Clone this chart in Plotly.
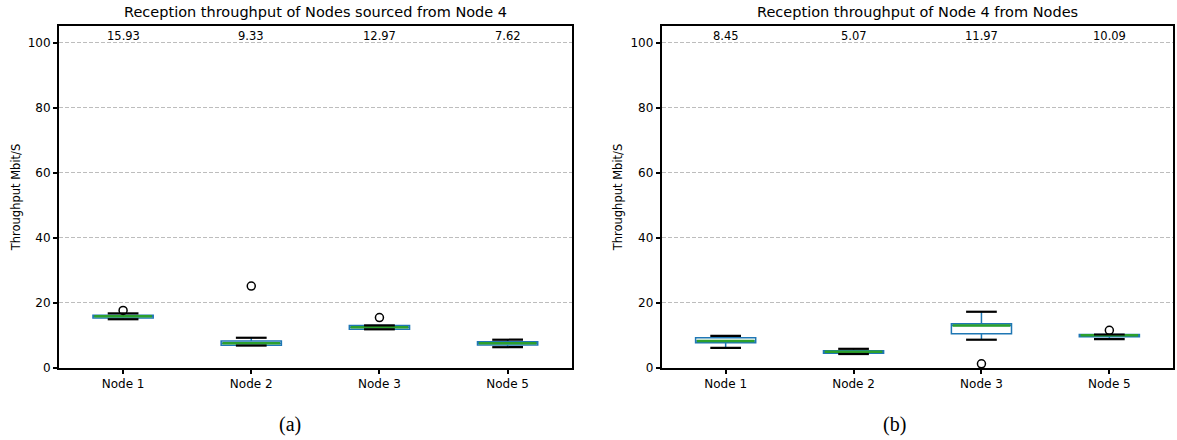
import plotly.graph_objects as go

# ---------------- data ----------------
nodes = ["Node 1", "Node 2", "Node 3", "Node 5"]
positions = [1, 2, 3, 4]

# Panel (a): Reception throughput of Nodes sourced from Node 4
a_q1 = [15.4, 7.0, 11.9, 7.1]
a_median = [15.9, 7.6, 12.5, 7.65]
a_q3 = [16.2, 8.3, 13.1, 8.05]
a_low = [15.0, 6.9, 11.9, 6.4]
a_high = [16.8, 9.3, 13.1, 8.7]
a_outliers_x = [1, 2, 3]
a_outliers_y = [17.7, 25.2, 15.5]
a_means = ["15.93", "9.33", "12.97", "7.62"]

# Panel (b): Reception throughput of Node 4 from Nodes
b_q1 = [7.8, 4.5, 10.5, 9.6]
b_median = [8.3, 5.0, 13.1, 10.1]
b_q3 = [9.3, 5.3, 13.6, 10.3]
b_low = [6.2, 4.3, 8.7, 8.9]
b_high = [9.9, 5.9, 17.3, 10.3]
b_outliers_x = [3, 4]
b_outliers_y = [1.3, 11.6]
b_means = ["8.45", "5.07", "11.97", "10.09"]

titles = ["Reception throughput of Nodes sourced from Node 4",
          "Reception throughput of Node 4 from Nodes"]
panel_labels = ["(a)", "(b)"]
y_ticks = [0, 20, 40, 60, 80, 100]

BOX_W = 0.47
CAP_W = 0.24
BLUE = "#1f77b4"
GREEN = "#2ca02c"

W, H = 1177, 440


def px_x(v):
    return v / W


def px_y(v):
    return 1 - v / H


fig = go.Figure()

panels = [
    (a_q1, a_median, a_q3, a_low, a_high, a_outliers_x, a_outliers_y, a_means, "x", "y"),
    (b_q1, b_median, b_q3, b_low, b_high, b_outliers_x, b_outliers_y, b_means, "x2", "y2"),
]

for (q1, med, q3, lo, hi, ox, oy, means, xa, ya) in panels:
    # boxes with whiskers (blue)
    fig.add_trace(go.Box(
        x=positions, q1=q1, median=med, q3=q3, lowerfence=lo, upperfence=hi,
        width=BOX_W, whiskerwidth=0, fillcolor="rgba(255,255,255,0)",
        line=dict(color=BLUE, width=1.5), boxpoints=False,
        xaxis=xa, yaxis=ya, showlegend=False, hoverinfo="skip"))
    # medians (green) and caps (black)
    mx, my, cx, cy = [], [], [], []
    for p, m, l, h in zip(positions, med, lo, hi):
        mx += [p - BOX_W / 2 + 0.01, p + BOX_W / 2 - 0.01, None]
        my += [m, m, None]
        cx += [p - CAP_W / 2, p + CAP_W / 2, None, p - CAP_W / 2, p + CAP_W / 2, None]
        cy += [l, l, None, h, h, None]
    fig.add_trace(go.Scatter(x=mx, y=my, mode="lines", line=dict(color=GREEN, width=2.5),
                             xaxis=xa, yaxis=ya, showlegend=False, hoverinfo="skip"))
    fig.add_trace(go.Scatter(x=cx, y=cy, mode="lines", line=dict(color="black", width=2.2),
                             xaxis=xa, yaxis=ya, showlegend=False, hoverinfo="skip"))
    # outliers
    fig.add_trace(go.Scatter(x=ox, y=oy, mode="markers",
                             marker=dict(symbol="circle-open", size=8, color="black",
                                         line=dict(width=1.5, color="black")),
                             xaxis=xa, yaxis=ya, showlegend=False, hoverinfo="skip"))
    # mean labels
    for p, t in zip(positions, means):
        fig.add_annotation(x=p, y=100, xref=xa, yref=ya, text=t, showarrow=False,
                           xanchor="center", yanchor="bottom", yshift=-2,
                           font=dict(family="DejaVu Sans", size=11.5, color="black"))

x_domains = [[px_x(59), px_x(571.7)], [px_x(661.7), px_x(1173.3)]]
y_domain = [px_y(368), px_y(26)]

axis_common = dict(showline=True, linecolor="black", linewidth=2, mirror=True,
                   ticks="outside", ticklen=4, tickwidth=1.5, tickcolor="black",
                   tickfont=dict(family="DejaVu Sans", size=12, color="black"),
                   zeroline=False, automargin=False)

for i, (xa, ya) in enumerate([("xaxis", "yaxis"), ("xaxis2", "yaxis2")]):
    fig.layout[xa] = dict(domain=x_domains[i], range=[0.5, 4.5], tickvals=positions,
                          ticktext=nodes, showgrid=False,
                          anchor="y" if i == 0 else "y2", **axis_common)
    fig.layout[ya] = dict(domain=y_domain, range=[0, 105.2], tickvals=y_ticks,
                          showgrid=True, gridcolor="#bdbdbd", griddash="4px,2px", gridwidth=1,
                          anchor="x" if i == 0 else "x2",
                          title=dict(text="Throughput Mbit/S", standoff=5,
                                     font=dict(family="DejaVu Sans", size=11.5, color="black")),
                          **axis_common)
    xc = (x_domains[i][0] + x_domains[i][1]) / 2
    fig.add_annotation(x=xc, y=px_y(12), xref="paper", yref="paper", text=titles[i],
                       showarrow=False, xanchor="center", yanchor="middle",
                       font=dict(family="DejaVu Sans", size=14.5, color="black"))
    fig.add_annotation(x=px_x(289.5 if i == 0 else 894), y=px_y(424),
                       xref="paper", yref="paper", text=panel_labels[i], showarrow=False,
                       xanchor="center", yanchor="middle",
                       font=dict(family="Liberation Serif", size=20, color="black"))

fig.update_layout(width=W, height=H, margin=dict(l=0, r=0, t=0, b=0),
                  plot_bgcolor="white", paper_bgcolor="white")

fig.write_html("out.html", config={"displayModeBar": False},
               post_script="document.body.style.margin='0';document.body.style.overflow='hidden';")
